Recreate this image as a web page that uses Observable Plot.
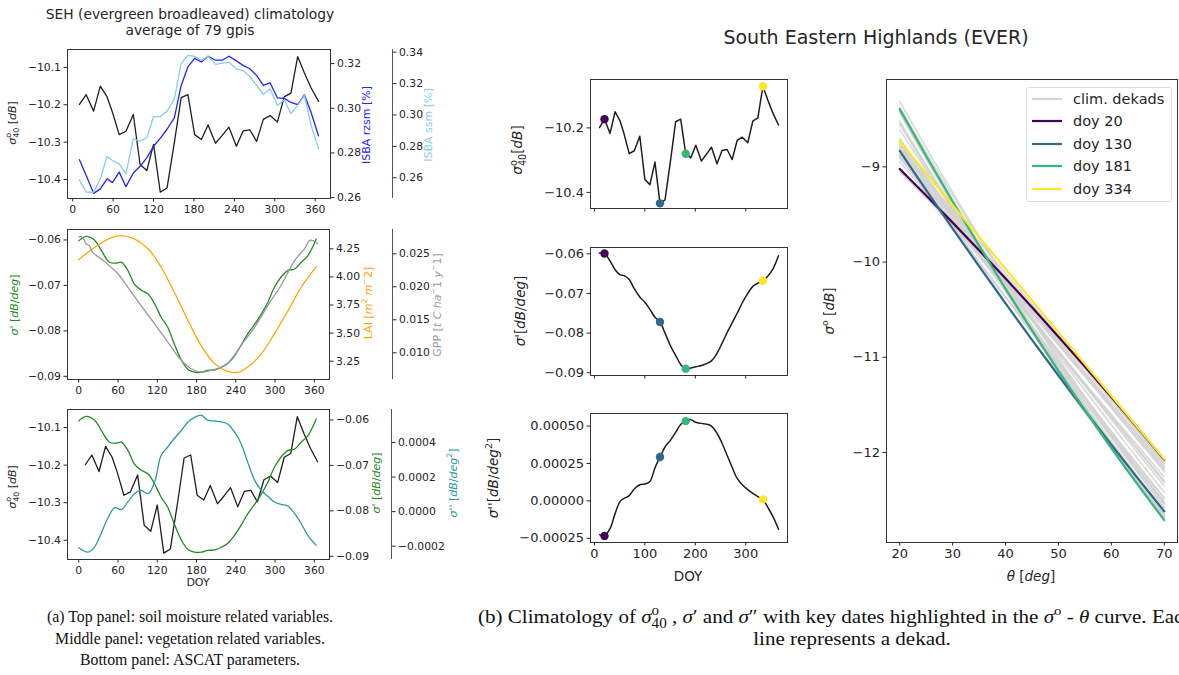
<!DOCTYPE html>
<html><head><meta charset="utf-8">
<script src="https://cdn.jsdelivr.net/npm/d3@7"></script>
<script src="https://cdn.jsdelivr.net/npm/@observablehq/plot@0.6"></script>
<style>
html,body{margin:0;padding:0;background:#fff;overflow:hidden}
#root{position:relative;width:1179px;height:675px;overflow:hidden;font-family:'DejaVu Sans',sans-serif;color:#262626;background:#fff}
.lbl{position:absolute;white-space:nowrap;line-height:1.15}
.ss{display:inline-block;vertical-align:-0.42em;font-size:0.72em;line-height:0.95;text-align:left}
.ss span{display:block}
.cap{position:absolute;white-space:nowrap;font-family:'Liberation Serif',serif;font-size:17px;line-height:1.2;color:#111}
.spine{position:absolute;width:0;border-left:1px solid #555}
</style></head><body><div id="root"></div><script>
// ---------------- data ----------------
const dekadDoy = [10,20,31,41,51,59,69,79,90,100,110,120,130,140,151,161,171,181,191,201,212,222,232,243,253,263,273,283,293,304,314,324,334,344,354,365];
const sigma40 = [-10.199,-10.173,-10.217,-10.150,-10.179,-10.220,-10.280,-10.271,-10.226,-10.360,-10.376,-10.306,-10.434,-10.423,-10.300,-10.181,-10.173,-10.280,-10.293,-10.254,-10.303,-10.282,-10.260,-10.311,-10.270,-10.267,-10.298,-10.239,-10.229,-10.246,-10.179,-10.169,-10.071,-10.115,-10.155,-10.191];
const isbaRzsm = [0.2770,0.2699,0.2619,0.2639,0.2684,0.2667,0.2714,0.2649,0.2710,0.2740,0.2778,0.2830,0.2865,0.2906,0.2958,0.3102,0.3185,0.3223,0.3207,0.3233,0.3215,0.3215,0.3233,0.3212,0.3192,0.3177,0.3147,0.3102,0.3114,0.3046,0.3044,0.3026,0.3016,0.3060,0.2981,0.2876];
const isbaSsm = [0.2587,0.2508,0.2508,0.2594,0.2736,0.2710,0.2689,0.2625,0.2848,0.2833,0.2855,0.2990,0.2990,0.3024,0.3103,0.3330,0.3379,0.3373,0.3347,0.3373,0.3322,0.3330,0.3336,0.3294,0.3283,0.3245,0.3188,0.3131,0.3167,0.3061,0.3097,0.3008,0.3061,0.3124,0.2933,0.2785];
// panel (a) daily climatologies, read at sample days
const slopeDoyA = [0,11,24,34,47,57,65,75,85,95,106,116,126,136,146,157,167,177,187,197,208,218,228,238,248,258,269,279,289,299,309,320,330,340,350,363];
const slopeA = [-0.0602,-0.0592,-0.0600,-0.0622,-0.0649,-0.0651,-0.0649,-0.0667,-0.0697,-0.0710,-0.0719,-0.0741,-0.0770,-0.0792,-0.0829,-0.0865,-0.0885,-0.0891,-0.0891,-0.0887,-0.0886,-0.0880,-0.0871,-0.0854,-0.0832,-0.0807,-0.0785,-0.0763,-0.0737,-0.0704,-0.0682,-0.0667,-0.0664,-0.0649,-0.0635,-0.0598];
const laiDoy = [0,14,34,49,65,85,106,126,146,167,187,208,228,243,258,279,299,320,340,363];
const lai = [4.152,4.220,4.300,4.348,4.368,4.339,4.250,4.086,3.864,3.612,3.389,3.226,3.160,3.151,3.196,3.315,3.493,3.701,3.908,4.092];
const gppDoy = [0,4,8,11,16,21,34,49,60,75,95,116,136,157,172,187,202,218,233,248,269,289,309,330,345,353,360,365];
const gpp = [0.02752,0.02762,0.02712,0.02652,0.02626,0.02524,0.02424,0.02298,0.02197,0.01994,0.01717,0.01439,0.01161,0.00883,0.00758,0.00706,0.00732,0.00782,0.00883,0.01111,0.01388,0.01717,0.02020,0.02398,0.02576,0.02702,0.02691,0.02652];
const curvDoyA = [0,14,24,34,44,55,65,75,85,95,106,116,126,136,146,157,167,177,187,197,208,218,228,238,248,258,269,279,289,299,309,320,330,340,350,363];
const curvA = [-0.000209,-0.000234,-0.000205,-0.000128,-0.000041,0.000023,0.000012,0.000056,0.000104,0.000123,0.000104,0.000172,0.000326,0.000374,0.000423,0.000471,0.000519,0.000545,0.000558,0.000529,0.000525,0.000519,0.000506,0.000461,0.000394,0.000288,0.000181,0.000123,0.000089,0.000056,0.000042,0.000031,-0.000012,-0.000070,-0.000137,-0.000195];
// panel (b) dekadal slope and curvature
const slopeDek = [-0.0598,-0.0599,-0.0618,-0.0640,-0.0653,-0.0655,-0.0665,-0.0688,-0.0709,-0.0722,-0.0740,-0.0760,-0.0772,-0.0800,-0.0833,-0.0856,-0.0879,-0.0890,-0.0888,-0.0885,-0.0882,-0.0877,-0.0870,-0.0851,-0.0826,-0.0799,-0.0774,-0.0750,-0.0724,-0.0700,-0.0682,-0.0674,-0.0668,-0.0656,-0.0638,-0.0605];
const curvDek = [-0.000225,-0.000234,-0.000185,-0.000085,-0.000003,0.000017,0.000035,0.000080,0.000108,0.000113,0.000130,0.000220,0.000293,0.000360,0.000406,0.000458,0.000510,0.000533,0.000543,0.000525,0.000518,0.000513,0.000500,0.000452,0.000385,0.000305,0.000225,0.000150,0.000108,0.000075,0.000050,0.000028,0.000010,-0.000045,-0.000105,-0.000190];
const keyDoy = [20,130,181,334];
const keyColor = ["#440154","#31688e","#35b779","#fde725"];
const thetaDeg = [20,25,30,35,40,45,50,55,60,65,70];
// tick labels
const xTicksA = [0,60,120,180,240,300,360];
const xTicksB = [0,100,200,300];
const thetaTicks = [20,30,40,50,60,70];
const ticksS40A = [-10.4,-10.3,-10.2,-10.1];
const ticksRzsm = [0.26,0.28,0.30,0.32];
const ticksSsm = [0.26,0.28,0.30,0.32,0.34];
const ticksSlope = [-0.09,-0.08,-0.07,-0.06];
const ticksLai = [3.25,3.5,3.75,4.0,4.25];
const ticksGpp = [0.010,0.015,0.020,0.025];
const ticksCurvA = [-0.0002,0,0.0002,0.0004];
const ticksS40B = [-10.4,-10.2];
const ticksCurvB = [-0.00025,0,0.00025,0.0005];
const ticksSig = [-12,-11,-10,-9];

// ---------------- helpers ----------------
const root = document.getElementById("root");
const cBlack="#1f1f1f", cBlue="#2323ff", cSky="#87ceeb", cGreen="#1f8c1f", cOrange="#ffa500", cGray="#9a9a9a", cTeal="#2a9a9e", cFrame="#333";
const pts = (xs, ys) => xs.map((x, i) => ({x, y: ys[i]}));
const F = s => d3.format(s);
function axY(ticks, f, anchor = "left") {
  return Plot.axisY({ticks, tickFormat: F(f), anchor, tickSize: 3.5, tickPadding: 3, label: null});
}
function axX(ticks, show = true) {
  return Plot.axisX({ticks, tickFormat: show ? F("d") : () => "", tickSize: 3.5, tickPadding: 3, label: null});
}
function layer(g, ydom, marks, fs) {
  const svg = Plot.plot({
    width: g.w, height: g.h, marginTop: g.mt, marginRight: g.mr, marginBottom: g.mb, marginLeft: g.ml,
    x: {domain: g.xd, axis: null}, y: {domain: ydom, axis: null},
    marks,
    style: {background: "transparent", fontFamily: "'DejaVu Sans', sans-serif", fontSize: fs + "px", color: "#262626", overflow: "visible", maxWidth: "none"}
  });
  svg.style.position = "absolute"; svg.style.left = g.left + "px"; svg.style.top = g.top + "px";
  root.appendChild(svg);
}
function spine(x, y, h) {
  const d = document.createElement("div"); d.className = "spine";
  d.style.left = x + "px"; d.style.top = y + "px"; d.style.height = h + "px"; root.appendChild(d);
}
function label(html, x, y, size, color = "#262626", rot = false) {
  const d = document.createElement("div"); d.className = "lbl"; d.innerHTML = html;
  d.style.left = x + "px"; d.style.top = y + "px"; d.style.fontSize = size + "px"; d.style.color = color;
  d.style.transform = "translate(-50%,-50%)" + (rot ? " rotate(-90deg)" : "");
  root.appendChild(d); return d;
}
const line = (data, stroke, w = 1.3, curve = "linear") => Plot.line(data, {x: "x", y: "y", stroke, strokeWidth: w, curve});
const s40html = '<i>σ</i><span class="ss"><span>o</span><span>40</span></span>';

// ---------------- panel (a) ----------------
const fsA = 10.8;
const gA1 = {left: 0, top: 0, w: 470, h: 230, ml: 67, mr: 140, mt: 49, mb: 32, xd: [-7.75, 382.75]};
const domS40A = [-10.451, -10.052];
layer(gA1, domS40A, [Plot.frame({stroke: cFrame}), axX(xTicksA), axY(ticksS40A, ".1f"), line(pts(dekadDoy, sigma40), cBlack)], fsA);
layer(gA1, [0.2596, 0.3263], [axY(ticksRzsm, ".2f", "right"), line(pts(dekadDoy, isbaRzsm), cBlue)], fsA);
layer(gA1, [0.2468, 0.3417], [line(pts(dekadDoy, isbaSsm), cSky)], fsA);
layer({...gA1, mr: 78}, [0.2468, 0.3417], [axY(ticksSsm, ".2f", "right")], fsA);
spine(392, 49, 149);

const gA2 = {left: 0, top: 200, w: 470, h: 210, ml: 67, mr: 141, mt: 29, mb: 31, xd: [-17.2, 383.2]};
const domSlopeA = [-0.0907, -0.0577];
layer(gA2, domSlopeA, [Plot.frame({stroke: cFrame}), axX(xTicksA), axY(ticksSlope, ".2f"), line(pts(slopeDoyA, slopeA), cGreen, 1.3, "catmull-rom")], fsA);
layer(gA2, [3.087, 4.422], [axY(ticksLai, ".2f", "right"), line(pts(laiDoy, lai), cOrange, 1.3, "catmull-rom")], fsA);
layer(gA2, [0.00595, 0.02868], [line(pts(gppDoy, gpp), cGray, 1.3, "catmull-rom")], fsA);
layer({...gA2, mr: 78}, [0.00595, 0.02868], [axY(ticksGpp, ".3f", "right")], fsA);
spine(392, 229, 150);

const gA3 = {left: 0, top: 380, w: 470, h: 215, ml: 67, mr: 141, mt: 29, mb: 36, xd: [-17.2, 383.2]};
layer(gA3, domS40A, [Plot.frame({stroke: cFrame}), axX(xTicksA), axY(ticksS40A, ".1f"), line(pts(dekadDoy, sigma40), cBlack)], fsA);
layer(gA3, domSlopeA, [axY(ticksSlope, ".2f", "right"), line(pts(slopeDoyA, slopeA), cGreen, 1.3, "catmull-rom")], fsA);
layer(gA3, [-0.000277, 0.000591], [line(pts(curvDoyA, curvA), cTeal, 1.3, "catmull-rom")], fsA);
layer({...gA3, mr: 79}, [-0.000277, 0.000591], [axY(ticksCurvA, ".4f", "right")], fsA);
spine(391, 409, 150);

label("SEH (evergreen broadleaved) climatology<br>average of 79 gpis", 190, 23, 13.8).style.textAlign = "center";
label(s40html + ' [<i>dB</i>]', 13, 123, 11, "#262626", true);
label('ISBA rzsm [%]', 367, 125, 11, cBlue, true);
label('ISBA ssm [%]', 429, 125, 11, cSky, true);
label('<i>σ</i>\' [<i>dB</i>/<i>deg</i>]', 15, 305, 11, cGreen, true);
label('LAI [<i>m</i><sup style="font-size:.7em">2</sup> <i>m</i><sup style="font-size:.7em">−</sup>2]', 368, 303, 11, cOrange, true);
label('GPP [<i>t C ha</i><sup style="font-size:.7em">−</sup>1 <i>y</i><sup style="font-size:.7em">−</sup>1]', 437, 305, 11, cGray, true);
label(s40html + ' [<i>dB</i>]', 13, 487, 11, "#262626", true);
label('<i>σ</i>\' [<i>dB</i>/<i>deg</i>]', 377, 483, 11, cGreen, true);
label('<i>σ</i>\'\' [<i>dB</i>/<i>deg</i><sup style="font-size:.7em">2</sup>]', 453, 483, 11, cTeal, true);
label('DOY', 198, 583, 11);

// ---------------- panel (b) ----------------
const fsB = 13;
const keyPts = keyDoy.map((d, k) => { const i = dekadDoy.indexOf(d); return {doy: d, s40: sigma40[i], s1: slopeDek[i], s2: curvDek[i], color: keyColor[k]}; });
const dots = (field) => keyPts.map(p => Plot.dot([p], {x: "doy", y: field, fill: p.color, r: 4.2}));
const xdB = [-7.75, 382.75];
const gB1 = {left: 480, top: 40, w: 330, h: 190, ml: 110, mr: 23, mt: 39, mb: 22, xd: xdB};
layer(gB1, [-10.45, -10.05], [Plot.frame({stroke: cFrame}), axX(xTicksB, false), axY(ticksS40B, ".1f"), line(pts(dekadDoy, sigma40), cBlack, 1.5), ...dots("s40")], fsB);
const gB2 = {left: 480, top: 220, w: 330, h: 175, ml: 110, mr: 23, mt: 27, mb: 20, xd: xdB};
layer(gB2, [-0.0907, -0.0584], [Plot.frame({stroke: cFrame}), axX(xTicksB, false), axY(ticksSlope, ".2f"), line(pts(dekadDoy, slopeDek), cBlack, 1.5, "catmull-rom"), ...dots("s1")], fsB);
const gB3 = {left: 480, top: 390, w: 330, h: 190, ml: 110, mr: 23, mt: 23, mb: 38, xd: xdB};
layer(gB3, [-0.000278, 0.000584], [Plot.frame({stroke: cFrame}), axX(xTicksB), axY(ticksCurvB, ".5f"), line(pts(dekadDoy, curvDek), cBlack, 1.5, "catmull-rom"), ...dots("s2")], fsB);

// sigma0 - theta curves, one per dekad, from sigma40, slope and curvature
const curve = (i) => thetaDeg.map(t => ({x: t, y: sigma40[i] + slopeDek[i] * (t - 40) + 0.5 * curvDek[i] * (t - 40) ** 2, doy: dekadDoy[i]}));
const dekadCurves = dekadDoy.flatMap((d, i) => curve(i));
const gB4 = {left: 820, top: 40, w: 359, h: 540, ml: 66, mr: 2, mt: 39, mb: 38, xd: [17.5, 72.5]};
layer(gB4, [-12.946, -8.082], [
  Plot.frame({stroke: cFrame}),
  Plot.axisX({ticks: thetaTicks, tickFormat: F("d"), tickSize: 3.5, tickPadding: 3, label: null}),
  Plot.axisY({ticks: ticksSig, tickFormat: F("d"), tickSize: 3.5, tickPadding: 3, label: null}),
  Plot.line(dekadCurves, {x: "x", y: "y", z: "doy", stroke: "#d3d3d3", strokeWidth: 1.5, strokeOpacity: 0.9, curve: "catmull-rom"}),
  ...keyDoy.map((d, k) => Plot.line(curve(dekadDoy.indexOf(d)), {x: "x", y: "y", stroke: keyColor[k], strokeWidth: 2.2, curve: "catmull-rom"}))
], fsB);

label('South Eastern Highlands (EVER)', 876, 38, 19);
label(s40html + '[<i>dB</i>]', 518, 150, 13.5, "#262626", true);
label('<i>σ</i>\'[<i>dB</i>/<i>deg</i>]', 521, 311, 13.5, "#262626", true);
label('<i>σ</i>\'\'[<i>dB</i>/<i>deg</i><sup style="font-size:.7em">2</sup>]', 493, 478, 13.5, "#262626", true);
label('DOY', 688, 577, 13.5);
label('<i>σ</i><sup style="font-size:.7em">o</sup> [<i>dB</i>]', 829, 311, 13.5, "#262626", true);
label('<i>θ</i> [<i>deg</i>]', 1031, 577, 13.5);

// legend
const leg = document.createElement("div");
Object.assign(leg.style, {position: "absolute", left: "1026px", top: "87px", width: "146px", height: "115px", border: "1px solid #dcdcdc", borderRadius: "3px", background: "rgba(255,255,255,0.85)", boxSizing: "border-box", fontSize: "14.5px"});
root.appendChild(leg);
const legRows = [{t: "clim. dekads", c: "#d3d3d3"}, ...keyDoy.map((d, k) => ({t: "doy " + d, c: keyColor[k]}))];
legRows.forEach((r, i) => {
  const row = document.createElement("div");
  Object.assign(row.style, {position: "absolute", left: "4px", top: (11 + i * 22.4 - 9) + "px", height: "18px", display: "flex", alignItems: "center", whiteSpace: "nowrap"});
  row.innerHTML = `<svg width="32" height="18" style="margin-right:10px"><line x1="1" x2="31" y1="9" y2="9" stroke="${r.c}" stroke-width="2.2"/></svg><span>${r.t}</span>`;
  leg.appendChild(row);
});

// ---------------- captions ----------------
function cap(html, cx, cy) {
  const d = document.createElement("div"); d.className = "cap"; d.innerHTML = html;
  d.style.left = cx + "px"; d.style.top = cy + "px"; root.appendChild(d); return d;
}
const capsA = [
  cap('(a) Top panel: soil moisture related variables.', 190, 617),
  cap('Middle panel: vegetation related variables.', 190, 638.5),
  cap('Bottom panel: ASCAT parameters.', 190, 660)
];
const sxA = 286 / capsA[0].getBoundingClientRect().width;
capsA.forEach(d => { d.style.transform = `translate(-50%,-50%) scaleX(${sxA})`; });
const capB1 = cap('(b) Climatology of <i>σ</i><span class="ss"><span>o</span><span>40</span></span> , <i>σ</i>′ and <i>σ</i>″ with key dates highlighted in the <i>σ</i><sup style="font-size:.7em">o</sup> - <i>θ</i> curve. Each', 478, 617);
const capB2 = cap('line represents a dekad.', 852, 638.5);
[capB1, capB2].forEach(d => { d.style.fontSize = "19px"; });
const sxB = 716 / capB1.getBoundingClientRect().width;
capB1.style.transformOrigin = "0 50%";
capB1.style.transform = `translateY(-50%) scaleX(${sxB})`;
capB2.style.transform = `translate(-50%,-50%) scaleX(${sxB})`;
</script></body></html>
